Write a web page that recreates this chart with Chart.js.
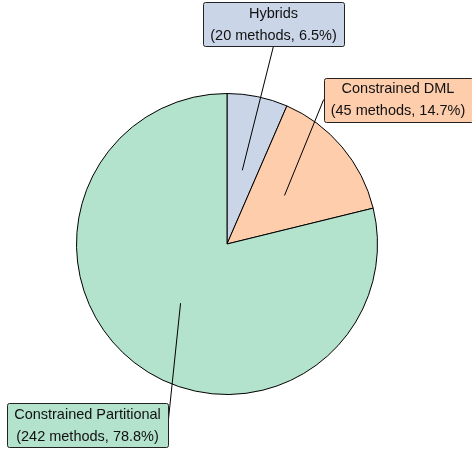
<!DOCTYPE html>
<html>
<head>
<meta charset="utf-8">
<script src="https://cdn.jsdelivr.net/npm/chart.js@4"></script>
<style>
  html, body { margin: 0; padding: 0; background: #fff; }
  #wrap { width: 472px; height: 451px; }
</style>
</head>
<body>
<div id="wrap"><canvas id="myChart"></canvas></div>
<script>
const categories = ['Hybrids', 'Constrained DML', 'Constrained Partitional'];
const methodCounts = [20, 45, 242];
const sliceColors = ['#cbd5e8', '#fdcdac', '#b3e2cd'];

// where each label box sits (box centre) and which side the leader line joins
const boxPlaces = [
  { x: 273.5, y: 24, side: 'bottom' },
  { x: 398, y: 99.5, side: 'left' },
  { x: 87.5, y: 425, side: 'right' }
];

const total = methodCounts.reduce((a, b) => a + b, 0);

const calloutLabels = {
  id: 'calloutLabels',
  afterDatasetsDraw(chart, args, opts) {
    const c = chart.ctx;
    const arcs = chart.getDatasetMeta(0).data;
    const font = '14.5px "Liberation Sans", Arial, sans-serif';
    const lineH = 22, padX = 7;
    c.save();
    c.font = font;

    const boxes = arcs.map((arc, i) => {
      const pct = (methodCounts[i] / total * 100).toFixed(1);
      const lines = [categories[i], '(' + methodCounts[i] + ' methods, ' + pct + '%)'];
      const w = Math.max(...lines.map(t => c.measureText(t).width)) + padX * 2;
      const h = lines.length * lineH;
      const p = opts.places[i];
      return { lines, w, h, cx: p.x, cy: p.y, side: p.side, arc };
    });

    // leader lines first, boxes on top
    c.strokeStyle = '#000';
    c.lineWidth = 1;
    boxes.forEach(b => {
      const tp = b.arc.tooltipPosition();
      let ax = b.cx, ay = b.cy;
      if (b.side === 'bottom') ay = b.cy + b.h / 2;
      if (b.side === 'top') ay = b.cy - b.h / 2;
      if (b.side === 'left') ax = b.cx - b.w / 2;
      if (b.side === 'right') ax = b.cx + b.w / 2;
      c.beginPath();
      c.moveTo(tp.x, tp.y);
      c.lineTo(ax, ay);
      c.stroke();
    });

    boxes.forEach((b, i) => {
      const x = b.cx - b.w / 2, y = b.cy - b.h / 2;
      c.beginPath();
      c.roundRect(Math.round(x) + 0.5, Math.round(y) + 0.5, Math.round(b.w), Math.round(b.h), 2);
      c.fillStyle = sliceColors[i];
      c.fill();
      c.strokeStyle = '#222';
      c.stroke();
      c.fillStyle = '#111';
      c.textAlign = 'center';
      c.textBaseline = 'middle';
      b.lines.forEach((t, k) => {
        c.fillText(t, b.cx, y + lineH / 2 + k * lineH + 0.5);
      });
    });
    c.restore();
  }
};

new Chart(document.getElementById('myChart'), {
  type: 'pie',
  data: {
    labels: categories,
    datasets: [{
      data: methodCounts,
      backgroundColor: sliceColors,
      borderColor: '#000',
      borderWidth: 1
    }]
  },
  options: {
    responsive: true,
    maintainAspectRatio: false,
    animation: false,
    layout: {
      padding: { top: 93, bottom: 56, left: 76, right: 94 }
    },
    plugins: {
      legend: { display: false },
      tooltip: { enabled: false },
      calloutLabels: { places: boxPlaces }
    }
  },
  plugins: [calloutLabels]
});
</script>
</body>
</html>
